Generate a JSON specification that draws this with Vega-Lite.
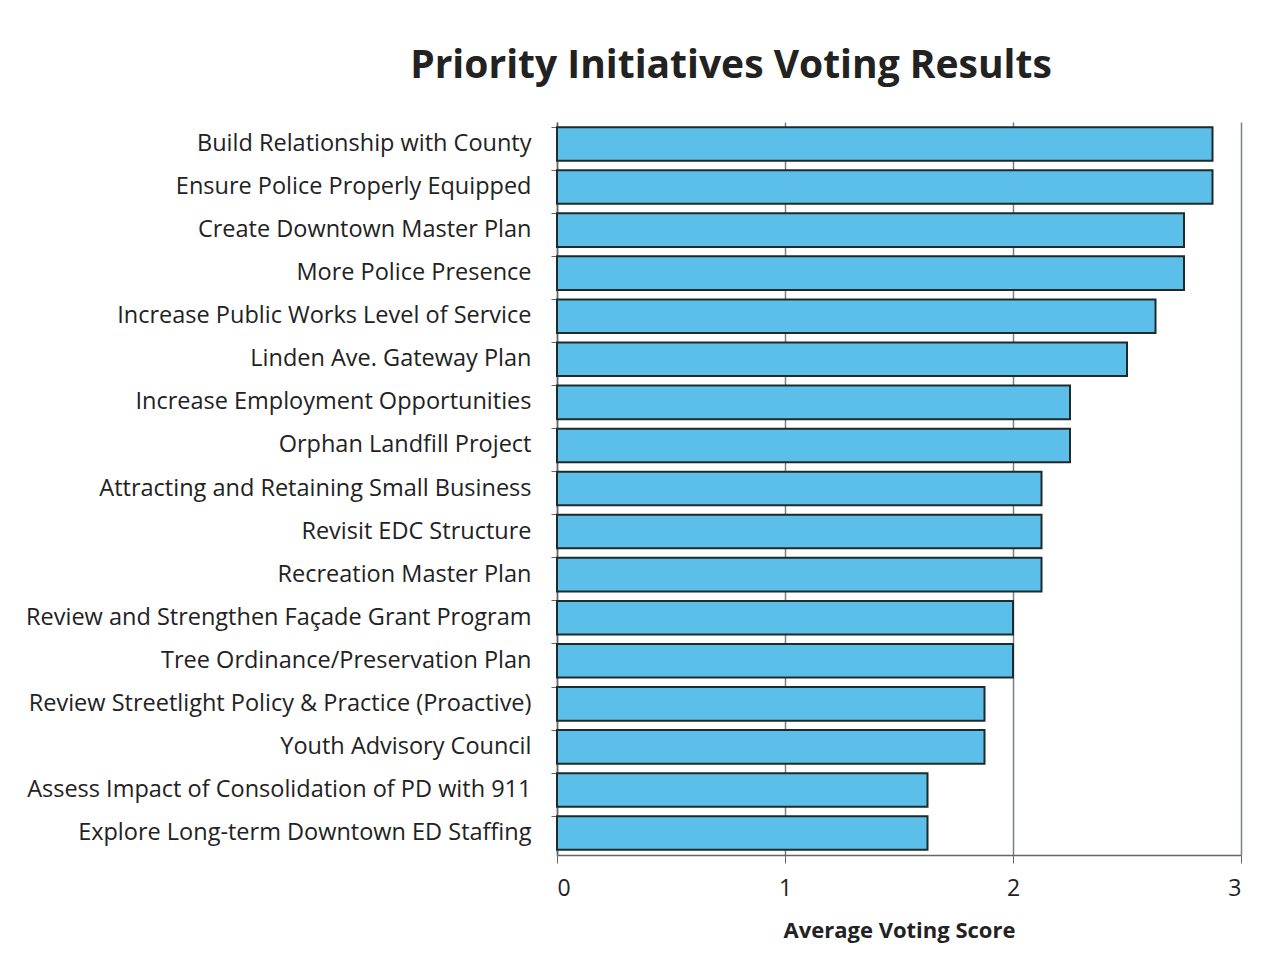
{
  "$schema": "https://vega.github.io/schema/vega-lite/v6.json",
  "autosize": "none",
  "width": 684,
  "height": 733,
  "padding": {"left": 557, "top": 122, "right": 36, "bottom": 115},
  "background": "white",
  "title": {
    "text": "Priority Initiatives Voting Results",
    "font": "Open Sans",
    "fontSize": 39,
    "fontWeight": "bold",
    "color": "#222222",
    "anchor": "middle",
    "frame": "group",
    "dx": -168,
    "offset": 36
  },
  "data": {
    "values": [
      {"initiative": "Build Relationship with County", "score": 2.875},
      {"initiative": "Ensure Police Properly Equipped", "score": 2.875},
      {"initiative": "Create Downtown Master Plan", "score": 2.75},
      {"initiative": "More Police Presence", "score": 2.75},
      {"initiative": "Increase Public Works Level of Service", "score": 2.625},
      {"initiative": "Linden Ave. Gateway Plan", "score": 2.5},
      {"initiative": "Increase Employment Opportunities", "score": 2.25},
      {"initiative": "Orphan Landfill Project", "score": 2.25},
      {"initiative": "Attracting and Retaining Small Business", "score": 2.125},
      {"initiative": "Revisit EDC Structure", "score": 2.125},
      {"initiative": "Recreation Master Plan", "score": 2.125},
      {"initiative": "Review and Strengthen Façade Grant Program", "score": 2.0},
      {"initiative": "Tree Ordinance/Preservation Plan", "score": 2.0},
      {"initiative": "Review Streetlight Policy & Practice (Proactive)", "score": 1.875},
      {"initiative": "Youth Advisory Council", "score": 1.875},
      {"initiative": "Assess Impact of Consolidation of PD with 911", "score": 1.625},
      {"initiative": "Explore Long-term Downtown ED Staffing", "score": 1.625}
    ]
  },
  "mark": {"type": "bar", "fill": "#5bbfea", "stroke": "#1f2a2a", "strokeWidth": 2},
  "encoding": {
    "y": {
      "field": "initiative",
      "type": "nominal",
      "sort": null,
      "title": null,
      "scale": {"paddingInner": 0.22, "paddingOuter": 0.12},
      "axis": {
        "labelFont": "Open Sans",
        "labelFontSize": 23.5,
        "labelColor": "#222222",
        "labelPadding": 20,
        "labelLimit": 600,
        "domainColor": "#666",
        "domainWidth": 1.5,
        "tickColor": "#666",
        "tickSize": 6,
        "bandPosition": 0,
        "grid": false
      }
    },
    "x": {
      "field": "score",
      "type": "quantitative",
      "title": "Average Voting Score",
      "scale": {"domain": [0, 3]},
      "axis": {
        "values": [0, 1, 2, 3],
        "format": "d",
        "labelFont": "Open Sans",
        "labelFontSize": 23,
        "labelColor": "#222222",
        "labelPadding": 14,
        "titleFont": "Open Sans",
        "titleFontSize": 22,
        "titleFontWeight": "bold",
        "titleColor": "#222222",
        "titlePadding": 20,
        "domainColor": "#666",
        "domainWidth": 1.5,
        "tickColor": "#666",
        "tickSize": 8,
        "grid": true,
        "gridColor": "#7a8088",
        "gridWidth": 1.5
      }
    }
  },
  "config": {"view": {"stroke": null}}
}
